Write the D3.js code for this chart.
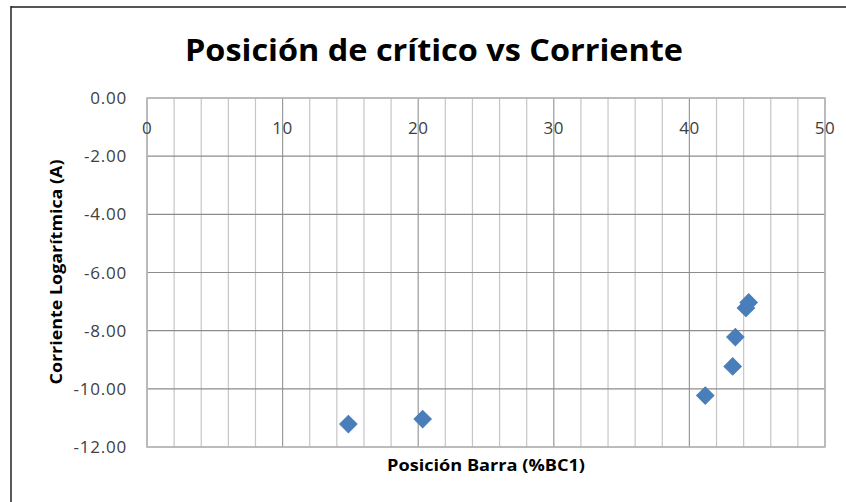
<!DOCTYPE html>
<html>
<head>
<meta charset="utf-8">
<script src="https://cdn.jsdelivr.net/npm/d3@7"></script>
<style>
  body { margin: 0; background: #fff; }
  text { font-family: "Open Sans", "Noto Sans", sans-serif; }
</style>
</head>
<body>
<svg id="chart" width="846" height="502"></svg>
<script>
// data
let posicion = [14.85, 20.33, 41.17, 43.19, 43.39, 44.17, 44.37];
let corriente = [-11.21, -11.04, -10.23, -9.23, -8.22, -7.22, -7.03];
let xTicks = [0, 10, 20, 30, 40, 50];
let yTicks = [0, -2, -4, -6, -8, -10, -12];

let width = 846,
    height = 502;
let margin = {left: 147, right: 21, top: 98, bottom: 55};

let svg = d3.select("#chart");

let x = d3.scaleLinear().domain([0, 50]).range([margin.left, width - margin.right]);
let y = d3.scaleLinear().domain([0, -12]).range([margin.top, height - margin.bottom]);

// chart frame (only top and left edges show)
svg.append("line").attr("x1", 11).attr("x2", width).attr("y1", 7).attr("y2", 7)
    .attr("stroke", "#555").attr("stroke-width", 2);
svg.append("line").attr("x1", 11).attr("x2", 11).attr("y1", 6).attr("y2", height)
    .attr("stroke", "#222").attr("stroke-width", 1.5);

// minor vertical grid every 2
svg.append("g").selectAll("line")
    .data(d3.range(2, 50, 2).filter(d => d % 10 != 0))
    .join("line")
    .attr("x1", d => x(d)).attr("x2", d => x(d))
    .attr("y1", y(0)).attr("y2", y(-12))
    .attr("stroke", "#c6c6c6").attr("stroke-width", 1.2);

// major vertical grid
svg.append("g").selectAll("line")
    .data(xTicks)
    .join("line")
    .attr("x1", d => x(d)).attr("x2", d => x(d))
    .attr("y1", y(0)).attr("y2", y(-12))
    .attr("stroke", "#9a9a9a").attr("stroke-width", 1.2);

// horizontal grid
svg.append("g").selectAll("line")
    .data(yTicks)
    .join("line")
    .attr("x1", x(0)).attr("x2", x(50))
    .attr("y1", d => y(d)).attr("y2", d => y(d))
    .attr("stroke", "#8c8c8c").attr("stroke-width", 1.2);

// plot area border
svg.append("rect")
    .attr("x", x(0)).attr("y", y(0))
    .attr("width", x(50) - x(0)).attr("height", y(-12) - y(0))
    .attr("fill", "none").attr("stroke", "#b8b8b8").attr("stroke-width", 1.5);

// y tick labels
svg.append("g").selectAll("text")
    .data(yTicks)
    .join("text")
    .attr("x", 127)
    .attr("y", d => y(d))
    .attr("dy", "0.36em")
    .attr("text-anchor", "end")
    .attr("font-size", 17)
    .attr("letter-spacing", 0.8)
    .attr("fill", "#404040")
    .text(d => d3.format(".2f")(d).replace("−", "-"));

// x tick labels (the axis sits at y = 0, on top)
svg.append("g").selectAll("text")
    .data(xTicks)
    .join("text")
    .attr("x", d => x(d))
    .attr("y", 134)
    .attr("text-anchor", "middle")
    .attr("font-size", 17)
    .attr("letter-spacing", 0.5)
    .attr("fill", "#404040")
    .text(d => d);

// points
svg.append("g").selectAll("path")
    .data(posicion)
    .join("path")
    .attr("transform", (d, i) => "translate(" + x(d) + "," + y(corriente[i]) + ") rotate(45)")
    .attr("d", d3.symbol().type(d3.symbolSquare).size(150))
    .attr("fill", "#4a7ebb")
    .attr("stroke", "#4a7ebb")
    .attr("stroke-width", 1);

// titles
svg.append("text")
    .attr("x", 434).attr("y", 61)
    .attr("text-anchor", "middle")
    .attr("font-size", 31)
    .attr("font-weight", "bold")
    .attr("fill", "#000")
    .attr("textLength", 498)
    .attr("lengthAdjust", "spacingAndGlyphs")
    .text("Posición de crítico vs Corriente");

svg.append("text")
    .attr("x", 486).attr("y", 471)
    .attr("text-anchor", "middle")
    .attr("font-size", 16)
    .attr("font-weight", "bold")
    .attr("fill", "#000")
    .attr("textLength", 198)
    .attr("lengthAdjust", "spacingAndGlyphs")
    .text("Posición Barra (%BC1)");

svg.append("text")
    .attr("transform", "translate(62,272) rotate(-90)")
    .attr("text-anchor", "middle")
    .attr("font-size", 16)
    .attr("font-weight", "bold")
    .attr("fill", "#000")
    .attr("textLength", 225)
    .attr("lengthAdjust", "spacingAndGlyphs")
    .text("Corriente Logarítmica (A)");
</script>
</body>
</html>
